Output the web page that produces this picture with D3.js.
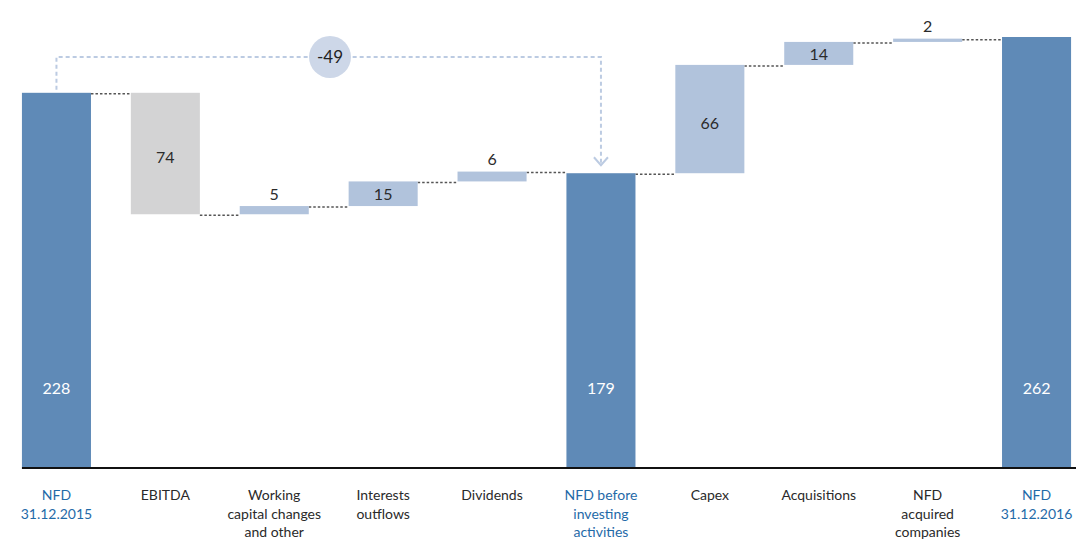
<!DOCTYPE html>
<html>
<head>
<meta charset="utf-8">
<script src="https://cdn.jsdelivr.net/npm/d3@7"></script>
<style>
  html, body { margin: 0; padding: 0; background: #fff; }
  svg { display: block; }
  text { font-family: Lato, "Open Sans", sans-serif; }
</style>
</head>
<body>
<svg id="chart" width="1078" height="539"></svg>
<script>
// Net financial debt bridge, 2015 -> 2016
const categories = [
  ["NFD", "31.12.2015"],
  ["EBITDA"],
  ["Working", "capital changes", "and other"],
  ["Interests", "outflows"],
  ["Dividends"],
  ["NFD before", "investing", "activities"],
  ["Capex"],
  ["Acquisitions"],
  ["NFD", "acquired", "companies"],
  ["NFD", "31.12.2016"]
];
// step type: "total" bars stand on zero, "down"/"up" float from running total
const kinds  = ["total", "down", "up", "up", "up", "total", "up", "up", "up", "total"];
const values = [228, 74, 5, 15, 6, 179, 66, 14, 2, 262];
const bridgeLabel = "-49"; // change from first total to subtotal

const baseY = 467, topY = 37;
const svg = d3.select("#chart");

const x = d3.scaleBand()
  .domain(d3.range(categories.length))
  .range([2, 1091])
  .paddingInner(0.366)
  .paddingOuter(0.183);

const y = d3.scaleLinear().domain([0, 262]).range([baseY, topY]);

// build floating segments
let running = 0;
const steps = values.map((v, i) => {
  let lo, hi, end;
  if (kinds[i] === "total") { lo = 0; hi = v; end = v; }
  else if (kinds[i] === "down") { lo = running - v; hi = running; end = running - v; }
  else { lo = running; hi = running + v; end = running + v; }
  const s = { i, v, kind: kinds[i], lo, hi, start: running, end };
  running = end;
  return s;
});

const fillFor = s => s.kind === "total" ? "#5f8ab7" : (s.kind === "down" ? "#d3d3d4" : "#b1c3dc");

// connectors between neighbouring bars at the running level
const conn = svg.append("g");
steps.slice(0, -1).forEach((s, k) => {
  const level = s.end;
  conn.append("line")
    .attr("x1", x(k) + x.bandwidth())
    .attr("x2", x(k + 1))
    .attr("y1", y(level) + 1)
    .attr("y2", y(level) + 1)
    .attr("stroke", "#555")
    .attr("stroke-width", 1.5)
    .attr("stroke-dasharray", "2.5,2");
});

// bars
svg.append("g").selectAll("rect").data(steps).join("rect")
  .attr("x", d => x(d.i))
  .attr("width", x.bandwidth())
  .attr("y", d => y(d.hi))
  .attr("height", d => Math.max(1, y(d.lo) - y(d.hi)))
  .attr("fill", fillFor);

// value labels
const lab = svg.append("g").attr("text-anchor", "middle").attr("font-size", 16);
steps.forEach(s => {
  const cx = x(s.i) + x.bandwidth() / 2;
  const h = y(s.lo) - y(s.hi);
  let ty, col;
  if (s.kind === "total") { ty = 388; col = "#ffffff"; }
  else if (h > 22) { ty = (y(s.lo) + y(s.hi)) / 2 + (h > 80 ? 4 : 1); col = "#2b2b2b"; }
  else { ty = y(s.hi) - 12; col = "#2b2b2b"; }
  lab.append("text")
    .attr("x", cx).attr("y", ty)
    .attr("dy", "0.35em")
    .attr("fill", col)
    .text(s.v);
});

// axis baseline
svg.append("line")
  .attr("x1", x(0)).attr("x2", 1076)
  .attr("y1", baseY + 1).attr("y2", baseY + 1)
  .attr("stroke", "#111").attr("stroke-width", 2);

// category labels
const cat = svg.append("g").attr("text-anchor", "middle").attr("font-size", 14);
categories.forEach((lines, i) => {
  const t = cat.append("text")
    .attr("x", x(i) + x.bandwidth() / 2)
    .attr("y", 500)
    .attr("fill", kinds[i] === "total" ? "#1f6aa8" : "#2a2a2a");
  lines.forEach((ln, j) => {
    t.append("tspan").attr("x", x(i) + x.bandwidth() / 2).attr("dy", j === 0 ? 0 : 18.5).text(ln);
  });
});

// bridge bracket from first total to subtotal
const x0 = x(0) + x.bandwidth() / 2;
const x5 = x(5) + x.bandwidth() / 2;
const bracketY = 57;
const bridge = svg.append("g");
bridge.append("path")
  .attr("d", `M${x0},${y(values[0]) - 3} V${bracketY} H${x5} V${y(values[5]) - 8}`)
  .attr("fill", "none")
  .attr("stroke", "#bccbe2")
  .attr("stroke-width", 2)
  .attr("stroke-dasharray", "4,3");
bridge.append("path")
  .attr("d", `M${x5 - 7},${y(values[5]) - 16} L${x5},${y(values[5]) - 8} L${x5 + 7},${y(values[5]) - 16}`)
  .attr("fill", "none")
  .attr("stroke", "#bccbe2")
  .attr("stroke-width", 2);
bridge.append("circle")
  .attr("cx", 330).attr("cy", bracketY)
  .attr("r", 21)
  .attr("fill", "#cdd7e8");
bridge.append("text")
  .attr("x", 330).attr("y", bracketY)
  .attr("dy", "0.35em")
  .attr("text-anchor", "middle")
  .attr("font-size", 17)
  .attr("fill", "#222")
  .text(bridgeLabel);
</script>
</body>
</html>
